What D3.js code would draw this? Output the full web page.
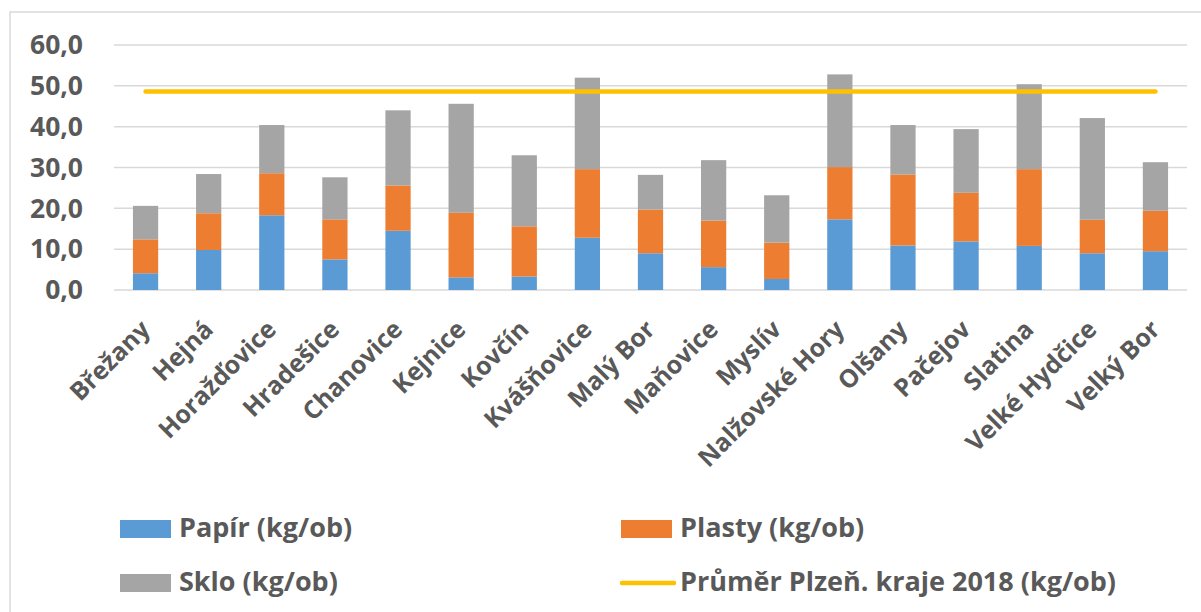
<!DOCTYPE html>
<html>
<head>
<meta charset="utf-8">
<script src="https://cdn.jsdelivr.net/npm/d3@7/dist/d3.min.js"></script>
<style>
html,body{margin:0;padding:0;background:#fff;}
svg{display:block;}
</style>
</head>
<body>
<svg id="chart" width="1201" height="612"></svg>
<script>
const categories = ["Břežany","Hejná","Horažďovice","Hradešice","Chanovice","Kejnice","Kovčín","Kvášňovice","Malý Bor","Maňovice","Myslív","Nalžovské Hory","Olšany","Pačejov","Slatina","Velké Hydčice","Velký Bor"];
const papir  = [4.1, 9.8, 18.3, 7.5, 14.5, 3.1, 3.3, 12.8, 9.0, 5.6, 2.7, 17.3, 10.9, 11.9, 10.8, 9.0, 9.5];
const plasty = [8.3, 9.0, 10.3, 9.8, 11.1, 15.8, 12.3, 16.8, 10.7, 11.4, 8.9, 12.8, 17.4, 11.9, 18.8, 8.2, 9.9];
const sklo   = [8.2, 9.6, 11.8, 10.3, 18.4, 26.7, 17.4, 22.4, 8.5, 14.8, 11.6, 22.7, 12.1, 15.6, 20.8, 24.9, 11.9];
const prumer = 48.6;
const yTicks = [0, 10, 20, 30, 40, 50, 60];
const seriesNames = ["Papír (kg/ob)", "Plasty (kg/ob)", "Sklo (kg/ob)"];
const lineName = "Průměr Plzeň. kraje 2018 (kg/ob)";
const colors = ["#5b9bd5", "#ed7d31", "#a5a5a5"];
const lineColor = "#ffc000";

(function () {
const svg = d3.select("#chart");
const textColor = "#595959";

// chart frame
svg.append("rect").attr("x", 10).attr("y", 12).attr("width", 1200).attr("height", 620)
  .attr("fill", "none").attr("stroke", "#d9d9d9").attr("stroke-width", 1.5);

const pLeft = 114, pRight = 1187, pTop = 45, pBottom = 290;
const x = d3.scaleBand().domain(categories).range([pLeft, pRight]).paddingInner(0.6).paddingOuter(0.3);
const y = d3.scaleLinear().domain([0, 60]).range([pBottom, pTop]);

// gridlines
svg.append("g").selectAll("line").data(yTicks).join("line")
  .attr("x1", pLeft).attr("x2", pRight)
  .attr("y1", d => y(d)).attr("y2", d => y(d))
  .attr("stroke", "#d9d9d9").attr("stroke-width", 1.5);

// y axis labels
const fmt = d => d3.format(".1f")(d).replace(".", ",");
const yAxis = d3.axisLeft(y).tickValues(yTicks).tickFormat(fmt).tickSize(0).tickPadding(0);
const ya = svg.append("g").attr("transform", `translate(83,0)`).call(yAxis);
ya.select(".domain").remove();
ya.selectAll("text").attr("fill", textColor).attr("font-family", "Open Sans").attr("font-weight", 700)
  .attr("font-size", 26.5).attr("dy", "0.33em");

// stacked data
const rows = categories.map((c, i) => ({cat: c, p0: papir[i], p1: plasty[i], p2: sklo[i]}));
const stack = d3.stack().keys(["p0", "p1", "p2"])(rows);

svg.append("g").selectAll("g").data(stack).join("g")
  .attr("fill", (d, i) => colors[i])
  .selectAll("rect").data(d => d).join("rect")
  .attr("x", d => x(d.data.cat))
  .attr("width", x.bandwidth())
  .attr("y", d => y(d[1]))
  .attr("height", d => y(d[0]) - y(d[1]));

// average line
const lineGen = d3.line().x(d => x(d) + x.bandwidth() / 2).y(() => y(prumer));
svg.append("path").datum(categories).attr("d", lineGen)
  .attr("fill", "none").attr("stroke", lineColor).attr("stroke-width", 4.5).attr("stroke-linecap", "round");

// category labels
const xa = svg.append("g");
xa.selectAll("text").data(categories).join("text")
  .attr("transform", d => `translate(${x(d) + x.bandwidth() / 2 + 6},${pBottom + 41}) rotate(-45)`)
  .attr("text-anchor", "end")
  .attr("fill", textColor).attr("font-family", "Open Sans").attr("font-weight", 700)
  .attr("font-size", 25)
  .text(d => d);

// legend
const legendItems = [
  {name: seriesNames[0], type: "rect", color: colors[0], x: 120, y: 537},
  {name: seriesNames[1], type: "rect", color: colors[1], x: 621, y: 537},
  {name: seriesNames[2], type: "rect", color: colors[2], x: 120, y: 591},
  {name: lineName, type: "line", color: lineColor, x: 621, y: 591}
];
const lg = svg.append("g").selectAll("g").data(legendItems).join("g");
lg.filter(d => d.type === "rect").append("rect")
  .attr("x", d => d.x).attr("y", d => d.y - 17).attr("width", 51).attr("height", 18)
  .attr("fill", d => d.color);
lg.filter(d => d.type === "line").append("line")
  .attr("x1", d => d.x + 1).attr("x2", d => d.x + 53).attr("y1", d => d.y - 8).attr("y2", d => d.y - 8)
  .attr("stroke", d => d.color).attr("stroke-width", 4.5).attr("stroke-linecap", "round");
lg.append("text")
  .attr("x", d => d.x + 59).attr("y", d => d.y)
  .attr("fill", textColor).attr("font-family", "Open Sans").attr("font-weight", 700)
  .attr("font-size", 27)
  .text(d => d.name);
})();
</script>
</body>
</html>
